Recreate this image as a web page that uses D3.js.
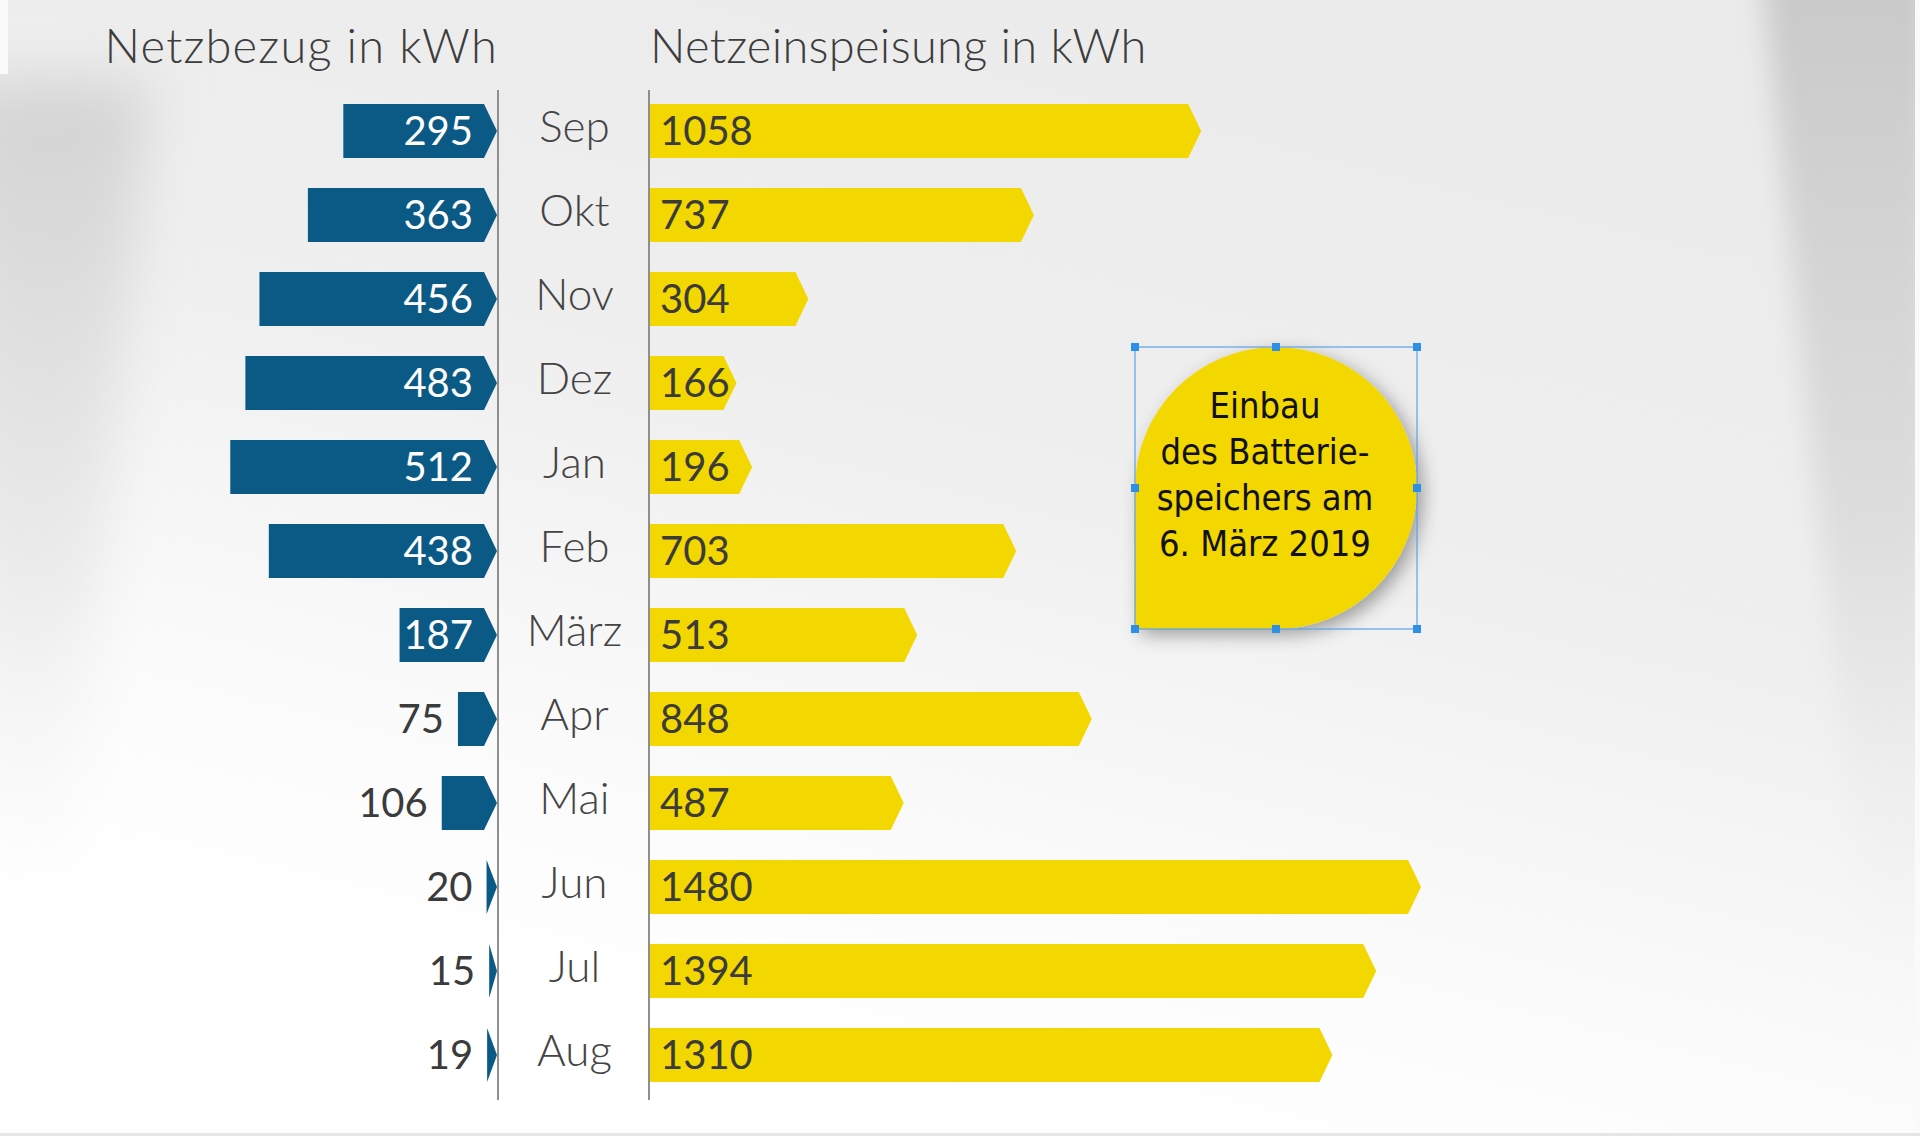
<!DOCTYPE html>
<html>
<head>
<meta charset="utf-8">
<script src="https://cdn.jsdelivr.net/npm/d3@7"></script>
<style>
  html, body { margin: 0; padding: 0; background: #fff; }
  svg { display: block; }
</style>
</head>
<body>
<div id="chart"></div>
<script>
// data
const months = ['Sep', 'Okt', 'Nov', 'Dez', 'Jan', 'Feb', 'März', 'Apr', 'Mai', 'Jun', 'Jul', 'Aug'];
const netzbezug = [295, 363, 456, 483, 512, 438, 187, 75, 106, 20, 15, 19];
const netzeinspeisung = [1058, 737, 304, 166, 196, 703, 513, 848, 487, 1480, 1394, 1310];
const titleLeft = 'Netzbezug in kWh';
const titleRight = 'Netzeinspeisung in kWh';
const calloutLines = ['Einbau', 'des Batterie-', 'speichers am', '6. März 2019'];

const width = 1920, height = 1136;
const blue = '#0b5a86', yellow = '#f3d700', textDark = '#3b3b3b';
const leftAxisX = 498, rightAxisX = 649;
const barH = 54, tipDepth = 13;

const svg = d3.select('#chart').append('svg')
  .attr('width', width)
  .attr('height', height);

const defs = svg.append('defs');

// background gradients
const bgGrad = defs.append('linearGradient')
  .attr('id', 'bg')
  .attr('gradientUnits', 'userSpaceOnUse')
  .attr('x1', 1250).attr('y1', 0).attr('x2', 980).attr('y2', 1100);
bgGrad.append('stop').attr('offset', 0).attr('stop-color', '#ebebeb');
bgGrad.append('stop').attr('offset', 0.45).attr('stop-color', '#efefef');
bgGrad.append('stop').attr('offset', 0.8).attr('stop-color', '#fbfbfb');
bgGrad.append('stop').attr('offset', 1).attr('stop-color', '#ffffff');

const rightShade = defs.append('linearGradient')
  .attr('id', 'rightShade').attr('x1', 0).attr('y1', 0).attr('x2', 0).attr('y2', 1);
rightShade.append('stop').attr('offset', 0).attr('stop-color', '#c8c8c8').attr('stop-opacity', 1);
rightShade.append('stop').attr('offset', 0.5).attr('stop-color', '#d6d6d6').attr('stop-opacity', 0.7);
rightShade.append('stop').attr('offset', 1).attr('stop-color', '#ffffff').attr('stop-opacity', 0);

const leftShade = defs.append('linearGradient')
  .attr('id', 'leftShade').attr('x1', 0).attr('y1', 0).attr('x2', 0).attr('y2', 1);
leftShade.append('stop').attr('offset', 0).attr('stop-color', '#d0d0d0').attr('stop-opacity', 0.9);
leftShade.append('stop').attr('offset', 0.55).attr('stop-color', '#dedede').attr('stop-opacity', 0.5);
leftShade.append('stop').attr('offset', 1).attr('stop-color', '#ffffff').attr('stop-opacity', 0);

defs.append('filter').attr('id', 'soft')
  .attr('x', '-50%').attr('y', '-50%').attr('width', '200%').attr('height', '200%')
  .append('feGaussianBlur').attr('stdDeviation', 28);

defs.append('filter').attr('id', 'softer')
  .attr('x', '-50%').attr('y', '-50%').attr('width', '200%').attr('height', '200%')
  .append('feGaussianBlur').attr('stdDeviation', 14);

const shadow = defs.append('filter').attr('id', 'dropShadow')
  .attr('x', '-20%').attr('y', '-20%').attr('width', '150%').attr('height', '150%');
shadow.append('feDropShadow')
  .attr('dx', 6).attr('dy', 6)
  .attr('stdDeviation', 9)
  .attr('flood-color', '#000')
  .attr('flood-opacity', 0.35);

// background
svg.append('rect').attr('width', width).attr('height', height).attr('fill', 'url(#bg)');
svg.append('path')
  .attr('d', 'M1760,-40 L1930,-40 L1930,1100 L1880,1100 Z')
  .attr('fill', 'url(#rightShade)')
  .attr('filter', 'url(#softer)');
svg.append('path')
  .attr('d', 'M-40,80 L150,80 L60,1000 L-40,1000 Z')
  .attr('fill', 'url(#leftShade)')
  .attr('filter', 'url(#soft)');
svg.append('rect').attr('x', 0).attr('y', 0).attr('width', 8).attr('height', 74).attr('fill', '#fafafa');
svg.append('rect').attr('x', 1915).attr('y', 0).attr('width', 5).attr('height', height).attr('fill', '#fafafa');
svg.append('rect').attr('x', 0).attr('y', 1133).attr('width', width).attr('height', 3).attr('fill', '#e6e6e6');

// scales
const x = d3.scaleLinear()
  .domain([0, d3.max(netzeinspeisung)])
  .range([0, 771]);

const y = d3.scalePoint()
  .domain(months)
  .range([131, 1055]);

// arrow bar shape: flat left end, pointed right end
function arrowPath(x0, x1, cy) {
  const flat = Math.max(x0, x1 - tipDepth);
  const t = cy - barH / 2, b = cy + barH / 2;
  return `M${x0},${t} L${flat},${t} L${x1},${cy} L${flat},${b} L${x0},${b} Z`;
}

// titles
svg.append('text')
  .attr('x', leftAxisX)
  .attr('y', 63)
  .attr('text-anchor', 'end')
  .attr('font-family', 'Lato, sans-serif')
  .attr('font-weight', 300)
  .attr('font-size', 47)
  .attr('letter-spacing', 1.2)
  .attr('fill', '#3d3d3d')
  .text(titleLeft);

svg.append('text')
  .attr('x', rightAxisX + 1)
  .attr('y', 63)
  .attr('font-family', 'Lato, sans-serif')
  .attr('font-weight', 300)
  .attr('font-size', 47)
  .attr('letter-spacing', 0.3)
  .attr('fill', '#3d3d3d')
  .text(titleRight);

// axis lines
[leftAxisX, rightAxisX].forEach(ax => {
  svg.append('line')
    .attr('x1', ax).attr('x2', ax)
    .attr('y1', 90).attr('y2', 1100)
    .attr('stroke', '#8f8f8f')
    .attr('stroke-width', 2);
});

const rows = months.map((m, i) => ({ month: m, bezug: netzbezug[i], einspeisung: netzeinspeisung[i] }));

const row = svg.append('g').selectAll('g')
  .data(rows)
  .join('g');

// blue bars (Netzbezug), growing leftwards from the left axis
const blueTip = leftAxisX - 1;
row.append('path')
  .attr('d', d => arrowPath(blueTip - x(d.bezug), blueTip, y(d.month)))
  .attr('fill', blue);

row.append('text')
  .attr('x', d => x(d.bezug) > 80 ? blueTip - 24 : blueTip - x(d.bezug) - 14)
  .attr('y', d => y(d.month) + 14)
  .attr('text-anchor', 'end')
  .attr('font-family', 'Lato, sans-serif')
  .attr('font-size', 40)
  .attr('fill', d => x(d.bezug) > 80 ? '#ffffff' : textDark)
  .text(d => d.bezug);

// month labels
row.append('text')
  .attr('x', (leftAxisX + rightAxisX) / 2 + 1)
  .attr('y', d => y(d.month) + 11)
  .attr('text-anchor', 'middle')
  .attr('font-family', 'Lato, sans-serif')
  .attr('font-weight', 300)
  .attr('font-size', 44)
  .attr('fill', '#444')
  .text(d => d.month);

// yellow bars (Netzeinspeisung)
const yellowStart = rightAxisX + 1;
row.append('path')
  .attr('d', d => arrowPath(yellowStart, yellowStart + x(d.einspeisung), y(d.month)))
  .attr('fill', yellow);

row.append('text')
  .attr('x', yellowStart + 10)
  .attr('y', d => y(d.month) + 14)
  .attr('font-family', 'Lato, sans-serif')
  .attr('font-size', 40)
  .attr('fill', textDark)
  .text(d => d.einspeisung);

// callout bubble
const bx = 1135, by = 347, bs = 282;
const r = bs / 2, cx = bx + r, cy = by + r;
const bubble = svg.append('g');

bubble.append('path')
  .attr('d', `M${bx},${by + bs} L${bx},${cy} A${r},${r} 0 1 1 ${cx},${by + bs} Z`)
  .attr('fill', yellow)
  .attr('filter', 'url(#dropShadow)');

bubble.append('text')
  .attr('text-anchor', 'middle')
  .attr('font-family', '"DejaVu Sans Condensed", "DejaVu Sans", sans-serif')
  .attr('font-stretch', 'condensed')
  .attr('font-size', 36)
  .attr('fill', '#111')
  .selectAll('tspan')
  .data(calloutLines)
  .join('tspan')
  .attr('x', 1265)
  .attr('y', (d, i) => 418 + i * 46)
  .text(d => d);

// selection frame around the bubble
bubble.append('rect')
  .attr('x', bx).attr('y', by)
  .attr('width', bs).attr('height', bs)
  .attr('fill', 'none')
  .attr('stroke', '#5aa2e8')
  .attr('stroke-width', 1.2);

const handles = [];
[0, 0.5, 1].forEach(fx => [0, 0.5, 1].forEach(fy => {
  if (fx !== 0.5 || fy !== 0.5) handles.push([bx + fx * bs, by + fy * bs]);
}));
bubble.selectAll('.handle')
  .data(handles)
  .join('rect')
  .attr('class', 'handle')
  .attr('x', d => d[0] - 4).attr('y', d => d[1] - 4)
  .attr('width', 8).attr('height', 8)
  .attr('fill', '#2f8ee8');
</script>
</body>
</html>
